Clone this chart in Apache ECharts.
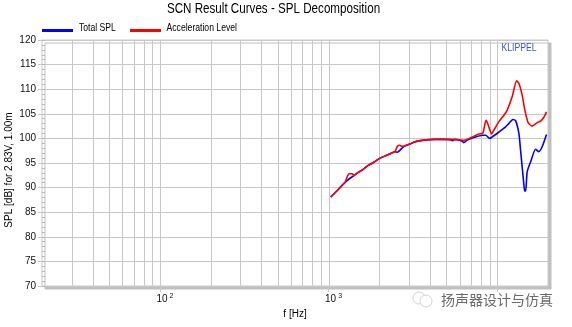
<!DOCTYPE html>
<html>
<head>
<meta charset="utf-8">
<style>
  html, body { margin: 0; padding: 0; background: #ffffff; }
  #chart { width: 572px; height: 327px; }
</style>
<script src="https://cdn.jsdelivr.net/npm/echarts@6/dist/echarts.min.js"></script>
</head>
<body>
<div id="chart"></div>
<script>
// Total SPL (blue): frequency [Hz] and level [dB]
const totalFreq = [1030, 1110, 1184, 1267, 1340, 1420, 1484, 1589, 1720, 1864, 1995, 2150, 2339, 2480, 2560, 2650, 2805, 3002, 3200, 3441, 3800, 4222, 4800, 5200, 5450, 5600, 5935, 6200, 6350, 6550, 6800, 7450, 8150, 8540, 9016, 9342, 10235, 11210, 11730, 12385, 12850, 13440, 13755, 14055, 14400, 14550, 14750, 15050, 15760, 16875, 17650, 18460, 19600];
const totalSpl  = [88.1, 89.2, 90.2, 91.2, 91.9, 92.5, 93.0, 93.6, 94.5, 95.2, 95.9, 96.4, 96.95, 97.3, 97.2, 97.6, 98.4, 98.8, 99.2, 99.5, 99.7, 99.8, 99.8, 99.75, 99.55, 99.8, 99.7, 99.4, 99.15, 99.5, 99.8, 100.3, 100.65, 100.65, 100.0, 100.3, 101.3, 102.35, 103.05, 103.85, 103.6, 101.0, 97.6, 94.2, 90.5, 89.3, 89.3, 93.2, 95.2, 97.8, 97.3, 98.3, 100.8];

// Acceleration Level (red): frequency [Hz] and level [dB]
const accelFreq  = [1030, 1110, 1184, 1255, 1290, 1320, 1380, 1420, 1484, 1589, 1720, 1864, 1995, 2150, 2339, 2480, 2560, 2640, 2720, 2805, 3002, 3200, 3441, 3800, 4222, 4800, 5400, 5935, 6350, 6800, 7450, 7792, 8231, 8457, 8610, 8845, 9266, 9561, 10235, 10957, 11460, 12270, 13025, 13440, 14055, 14585, 15255, 16110, 17245, 18060, 18900, 19600];
const accelLevel = [88.1, 89.2, 90.2, 91.1, 92.2, 92.8, 92.8, 92.5, 93.0, 93.6, 94.5, 95.2, 95.9, 96.4, 96.95, 97.4, 98.4, 98.6, 98.4, 98.4, 98.8, 99.2, 99.5, 99.7, 99.8, 99.8, 99.8, 99.7, 99.6, 100.0, 100.6, 100.9, 101.1, 103.0, 103.7, 102.7, 100.9, 101.7, 103.4, 104.7, 105.75, 108.5, 111.7, 111.2, 108.8, 105.75, 103.2, 102.5, 103.2, 103.5, 104.3, 105.4];

// Vertical grid lines of the logarithmic frequency axis
const gridFreqs = [30, 40, 50, 60, 70, 80, 90, 100, 200, 300, 400, 500, 600, 700, 800, 900, 1000, 2000, 3000, 4000, 5000, 6000, 7000, 8000, 9000, 10000];
const decadeTicks = [100, 1000, 10000];
const decadeLabels = [100, 1000];

const freqMin = 20, freqMax = 20000;
const splMin = 70, splMax = 120, splStep = 5;

const plain = "'Liberation Sans', Arial, sans-serif";
const gridGray = '#c8c8c8';
const squeeze = 0.75;   // horizontal compression of the condensed captions

const pairs = (xs, ys) => xs.map((x, i) => [x, ys[i]]);

// condensed caption text (title, legend names, brand)
const caption = (text, x, y, size, align, fill) => ({
  type: 'text', x: x, y: y, scaleX: squeeze, silent: true,
  style: { text: text, fontFamily: plain, fontSize: size, fill: fill, align: align, verticalAlign: 'middle' }
});

const legendItem = (name, left) => ({
  data: [name], left: left, top: 29, padding: 0,
  itemWidth: 31, itemHeight: 3, icon: 'rect',
  formatter: () => '', selectedMode: false,
  textStyle: { fontSize: 1 }
});

const chart = echarts.init(document.getElementById('chart'), null, { renderer: 'canvas' });

chart.setOption({
  animation: false,
  backgroundColor: '#ffffff',
  legend: [legendItem('Total SPL', 42), legendItem('Acceleration Level', 130)],
  grid: {
    left: 42, right: 24, top: 40, bottom: 41,
    containLabel: false,
    outerBoundsMode: 'none',
    show: true,
    backgroundColor: '#ffffff',
    borderColor: gridGray,
    borderWidth: 1,
    shadowColor: '#c0c0c0',
    shadowBlur: 0,
    shadowOffsetX: 3,
    shadowOffsetY: 3
  },
  xAxis: {
    type: 'log',
    logBase: 10,
    min: freqMin,
    max: freqMax,
    name: 'f [Hz]',
    nameLocation: 'middle',
    nameGap: 23,
    nameMoveOverlap: false,
    nameTextStyle: { fontFamily: plain, fontSize: 10, color: '#000' },
    axisLine: { show: false },
    axisTick: { show: true, customValues: decadeTicks, length: 6, lineStyle: { color: gridGray } },
    axisLabel: {
      customValues: decadeLabels,
      margin: 7,
      formatter: v => '{sp|}{b|10}{e|' + Math.round(Math.log10(v)) + '}',
      rich: {
        sp: { width: 10 },
        b: { fontFamily: plain, fontSize: 10, color: '#111' },
        e: { fontFamily: plain, fontSize: 7, color: '#111', verticalAlign: 'top', padding: [0, 0, 4, 2] }
      }
    },
    splitLine: { show: false }
  },
  yAxis: [
    {
      type: 'value',
      min: splMin,
      max: splMax,
      interval: splStep,
      name: 'SPL [dB] for 2.83V, 1.00m',
      nameLocation: 'middle',
      nameRotate: 90,
      nameGap: 28,
      nameMoveOverlap: false,
      nameTextStyle: { fontFamily: plain, fontSize: 10, color: '#000', padding: [0, 14, 0, 0] },
      axisLine: { show: false },
      axisTick: { show: true, length: 4, lineStyle: { color: gridGray } },
      axisLabel: { margin: 6, fontFamily: plain, fontSize: 10, color: '#111' },
      splitLine: { show: true, lineStyle: { color: gridGray, width: 1 } }
    },
    {
      type: 'value',
      min: splMin,
      max: splMax,
      interval: 1,
      position: 'left',
      axisLine: { show: false },
      axisTick: { show: true, inside: true, length: 3, lineStyle: { color: '#b8b8b8' } },
      axisLabel: { show: false },
      splitLine: { show: false }
    }
  ],
  graphic: [
    caption('SCN Result Curves - SPL Decomposition', 273.5, 8.5, 15.5, 'center', '#000'),
    caption('Total SPL', 79, 27.5, 11.5, 'left', '#000'),
    caption('Acceleration Level', 166.5, 27.5, 11.5, 'left', '#000'),
    caption('KLIPPEL', 501.5, 47.5, 11.5, 'left', '#3c58c0'),
    {
      type: 'group', x: 412, y: 291, silent: true,
      children: [
        { type: 'circle', shape: { cx: 7, cy: 7, r: 6 }, style: { fill: 'none', stroke: '#d4d4d4', lineWidth: 1 } },
        { type: 'circle', shape: { cx: 14, cy: 10, r: 6 }, style: { fill: '#fff', stroke: '#d4d4d4', lineWidth: 1 } }
      ]
    },
    {
      type: 'text', x: 441, y: 300, silent: true,
      style: { text: '扬声器设计与仿真', fontFamily: "'Noto Sans CJK SC', sans-serif", fontSize: 14, fill: '#6a6a6a', verticalAlign: 'middle' }
    }
  ],
  series: [
    {
      name: 'grid-lines',
      type: 'custom',
      silent: true,
      z: 1,
      data: gridFreqs,
      renderItem: (params, api) => {
        const f = api.value(0);
        const p0 = api.coord([f, splMin]);
        const p1 = api.coord([f, splMax]);
        return {
          type: 'line',
          shape: { x1: Math.round(p0[0]) + 0.5, y1: p0[1], x2: Math.round(p1[0]) + 0.5, y2: p1[1] },
          style: { stroke: gridGray, lineWidth: 1 }
        };
      },
      encode: { x: 0 }
    },
    {
      name: 'Total SPL',
      type: 'line',
      z: 3,
      showSymbol: false,
      smooth: 0.2,
      color: '#0000ff',
      lineStyle: { width: 1.6, color: '#0000ff' },
      data: pairs(totalFreq, totalSpl)
    },
    {
      name: 'Acceleration Level',
      type: 'line',
      z: 4,
      showSymbol: false,
      smooth: 0.2,
      color: '#ff0000',
      lineStyle: { width: 1.6, color: '#ff0000' },
      data: pairs(accelFreq, accelLevel)
    }
  ]
});
</script>
</body>
</html>
